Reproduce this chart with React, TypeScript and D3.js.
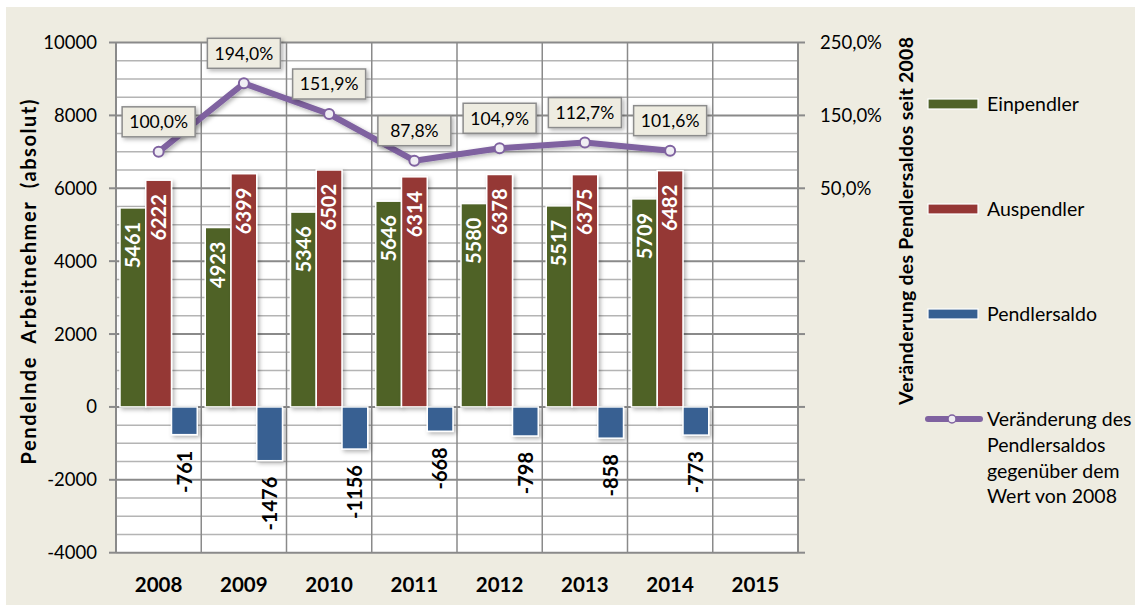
import React from "react";
import * as d3 from "d3";

const years = ["2008", "2009", "2010", "2011", "2012", "2013", "2014", "2015"];
const einpendler = [5461, 4923, 5346, 5646, 5580, 5517, 5709];
const auspendler = [6222, 6399, 6502, 6314, 6378, 6375, 6482];
const pendlersaldo = [-761, -1476, -1156, -668, -798, -858, -773];
const veraenderung = [100.0, 194.0, 151.9, 87.8, 104.9, 112.7, 101.6];
const leftTicks = [10000, 8000, 6000, 4000, 2000, 0, -2000, -4000];
const rightTickLabels = [250, 150, 50];
const seriesNames = ["Einpendler", "Auspendler", "Pendlersaldo"];
const legendLineLabel = ["Veränderung des", "Pendlersaldos", "gegenüber dem", "Wert von 2008"];

const W = 1136;
const H = 606;
const FONT = "Lato, 'Open Sans', sans-serif";
const colors = ["#4F6228", "#953735", "#376092"];
const purple = "#7F62A0";
const beige = "#EEECE1";

const fmtPct = (v: number) => v.toFixed(1).replace(".", ",") + "%";

export default function App() {
  const left = 116, right = 798, top = 42.5, bottom = 552.7;
  const x = d3.scaleBand<string>().domain(years).range([left, right]).padding(0);
  const y = d3.scaleLinear().domain([-4000, 10000]).range([bottom, top]);
  const y2 = d3.scaleLinear().domain([-450, 250]).range([bottom, top]);
  const bw = x.bandwidth();
  const inner = d3.scaleBand<string>().domain(seriesNames).range([4, bw - 4]).padding(0);
  const ibw = inner.bandwidth();
  const seriesData = [einpendler, auspendler, pendlersaldo];
  const minorTicks = d3.range(-4000, 10001, 500);
  const line = d3
    .line<number>()
    .x((_, i) => (x(years[i]) as number) + bw / 2)
    .y((d) => y2(d));

  return (
    <svg width={W} height={H} style={{ display: "block", position: "absolute", left: 0, top: 0 }}>
      <defs>
        <filter id="sh" x="-20%" y="-20%" width="150%" height="150%">
          <feDropShadow dx="2" dy="2" stdDeviation="2" floodColor="#000" floodOpacity="0.3" />
        </filter>
      </defs>
      <rect x={6} y={7} width={1129} height={598} fill={beige} />
      <rect x={left} y={top} width={right - left} height={bottom - top} fill="#fff" />
      {minorTicks.map((t) => (
        <line key={"m" + t} x1={left} x2={right} y1={y(t)} y2={y(t)}
          stroke={t % 2000 === 0 ? "#8a8a8a" : "#b4b4b4"} strokeWidth={t % 2000 === 0 ? 2 : 1.5} />
      ))}
      {years.map((yr, i) => (
        <line key={"v" + yr} x1={(x(yr) as number)} x2={(x(yr) as number)} y1={top} y2={bottom}
          stroke="#8a8a8a" strokeWidth={i === 0 ? 2 : 1.5} />
      ))}
      <line x1={right} x2={right} y1={top} y2={bottom} stroke="#8a8a8a" strokeWidth={2} />
      {leftTicks.map((t) => (
        <g key={"lt" + t}>
          <line x1={left - 7} x2={left} y1={y(t)} y2={y(t)} stroke="#8a8a8a" strokeWidth={2} />
          <text x={97} y={y(t)} dy="0.35em" textAnchor="end" fontFamily={FONT} fontSize={18.5} fill="#000">
            {t}
          </text>
        </g>
      ))}
      {leftTicks.map((t) => (
        <line key={"rt" + t} x1={right} x2={right + 7} y1={y(t)} y2={y(t)} stroke="#8a8a8a" strokeWidth={2} />
      ))}
      {rightTickLabels.map((t) => (
        <text key={"rl" + t} x={820} y={y2(t)} dy="0.35em" textAnchor="start" fontFamily={FONT} fontSize={18.5} fill="#000">
          {fmtPct(t)}
        </text>
      ))}
      {seriesData.map((arr, si) =>
        arr.map((v, i) => {
          const bx = (x(years[i]) as number) + (inner(seriesNames[si]) as number);
          const y0 = y(0);
          const yv = y(v);
          return (
            <rect key={"b" + si + "-" + i} x={bx} y={Math.min(y0, yv)} width={ibw} height={Math.abs(yv - y0)}
              fill={colors[si]} stroke="#fff" strokeWidth={1.5} filter="url(#sh)" />
          );
        })
      )}
      {seriesData.map((arr, si) =>
        arr.map((v, i) => {
          const cx = (x(years[i]) as number) + (inner(seriesNames[si]) as number) + ibw / 2;
          const yy = v >= 0 ? y(v) + 14 : y(v) + 16;
          return (
            <text key={"bl" + si + "-" + i} transform={`translate(${cx},${yy}) rotate(-90)`} dy="0.36em"
              textAnchor="end" fontFamily={FONT} fontWeight="bold" fontSize={20}
              fill={v >= 0 ? "#fff" : "#000"}>
              {v}
            </text>
          );
        })
      )}
      <path d={line(veraenderung) as string} fill="none" stroke={purple} strokeWidth={6} strokeLinejoin="round" filter="url(#sh)" />
      {veraenderung.map((v, i) => (
        <circle key={"c" + i} cx={(x(years[i]) as number) + bw / 2} cy={y2(v)} r={5} fill="#EFEDF3" stroke={purple} strokeWidth={2} />
      ))}
      {veraenderung.map((v, i) => {
        const cx = (x(years[i]) as number) + bw / 2;
        const cy = y2(v) - 30;
        return (
          <g key={"ll" + i}>
            <rect x={cx - 36.5} y={cy - 15} width={73} height={30} fill={beige} stroke="#8c8c8c" strokeWidth={1.5} filter="url(#sh)" />
            <text x={cx} y={cy} dy="0.36em" textAnchor="middle" fontFamily={FONT} fontSize={17.5} fill="#000">
              {fmtPct(v)}
            </text>
          </g>
        );
      })}
      {years.map((yr) => (
        <text key={"xl" + yr} x={(x(yr) as number) + bw / 2} y={585} dy="0.36em" textAnchor="middle"
          fontFamily={FONT} fontWeight="bold" fontSize={20.5} fill="#000">
          {yr}
        </text>
      ))}
      <text transform={`translate(29,282) rotate(-90)`} dy="0.36em" textAnchor="middle" fontFamily={FONT}
        fontWeight="bold" fontSize={20} fill="#000" style={{ whiteSpace: "pre" }}
        textLength={365} lengthAdjust="spacing">
        {"Pendelnde  Arbeitnehmer  (absolut)"}
      </text>
      <text transform={`translate(905.5,221) rotate(-90)`} dy="0.36em" textAnchor="middle" fontFamily={FONT}
        fontWeight="bold" fontSize={19.5} fill="#000" textLength={368} lengthAdjust="spacing">
        {"Veränderung des Pendlersaldos seit 2008"}
      </text>
      {seriesNames.map((s, i) => (
        <g key={"lg" + s}>
          <rect x={928} y={99 + i * 105} width={50} height={10} fill={colors[i]} stroke="#fff" strokeWidth={1.2} />
          <text x={987} y={104 + i * 105} dy="0.36em" fontFamily={FONT} fontSize={19.5} fill="#000">
            {s}
          </text>
        </g>
      ))}
      <line x1={928} x2={980} y1={419} y2={419} stroke={purple} strokeWidth={6} strokeLinecap="round" />
      <circle cx={952} cy={419} r={4} fill="#EFEDF3" stroke={purple} strokeWidth={1.5} />
      {legendLineLabel.map((t, i) => (
        <text key={"ltl" + i} x={987} y={419 + i * 25.8} dy="0.36em" fontFamily={FONT} fontSize={19.5} fill="#000">
          {t}
        </text>
      ))}
    </svg>
  );
}
